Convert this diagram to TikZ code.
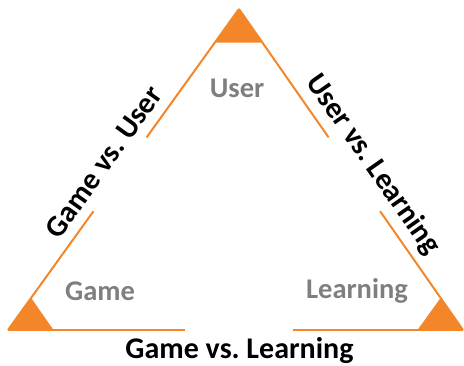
\documentclass[tikz,border=0pt]{standalone}
\usepackage{fontspec}
\setmainfont{Carlito}
\usetikzlibrary{calc}
\definecolor{sideorange}{HTML}{F4862A}
\definecolor{cornergray}{HTML}{7F7F7F}
\tikzset{
  side/.style={sideorange, line width=2pt},
  tip/.style={fill=sideorange},
  corner/.style={text=cornergray, inner sep=0pt, font=\fontsize{28.5}{30}\selectfont\bfseries},
  relation/.style={inner sep=0pt, font=\fontsize{30}{32}\selectfont\bfseries},
}

\begin{document}
\begin{tikzpicture}[x=1pt,y=-1pt]
  \useasboundingbox (0,0) rectangle (464,365);
  % corners of the triangle
  \coordinate (top) at (239,9);
  \coordinate (left) at (8,330);
  \coordinate (right) at (463,330);
  % filled tips in each corner
  \fill[tip] (top) -- ($(top)!0.105!(left)$) -- ($(top)!0.105!(right)$) -- cycle;
  \fill[tip] (left) -- ($(left)!0.1!(top)$) -- ($(left)!0.1!(right)$) -- cycle;
  \fill[tip] (right) -- ($(right)!0.1!(top)$) -- ($(right)!0.1!(left)$) -- cycle;
  % sides, broken where the labels sit
  \coordinate (lgapa) at ($(top)!0.4!(left)$);
  \coordinate (lgapb) at ($(top)!0.63!(left)$);
  \coordinate (rgapa) at ($(top)!0.4!(right)$);
  \coordinate (rgapb) at ($(top)!0.63!(right)$);
  \coordinate (bgapa) at ($(left)!0.39!(right)$);
  \coordinate (bgapb) at ($(left)!0.626!(right)$);
  \draw[side] (top) -- (lgapa);
  \draw[side] (lgapb) -- (left);
  \draw[side] (top) -- (rgapa);
  \draw[side] (rgapb) -- (right);
  \draw[side] (left) -- (bgapa);
  \draw[side] (bgapb) -- (right);
  % corner labels
  \node[corner, anchor=base] (user) at (237,97) {User};
  \node[corner, anchor=base] (game) at (100,300) {Game};
  \node[corner, anchor=base] (learning) at (357,298) {Learning};
  % side labels
  \node[relation, rotate=54.3] (gameuser) at (104,162) {Game vs.\ User};
  \node[relation, rotate=-55] (userlearning) at (373,165) {User vs.\ Learning};
  \node[relation, anchor=base] (gamelearning) at (239.5,358) {Game vs.\ Learning};
\end{tikzpicture}
\end{document}
